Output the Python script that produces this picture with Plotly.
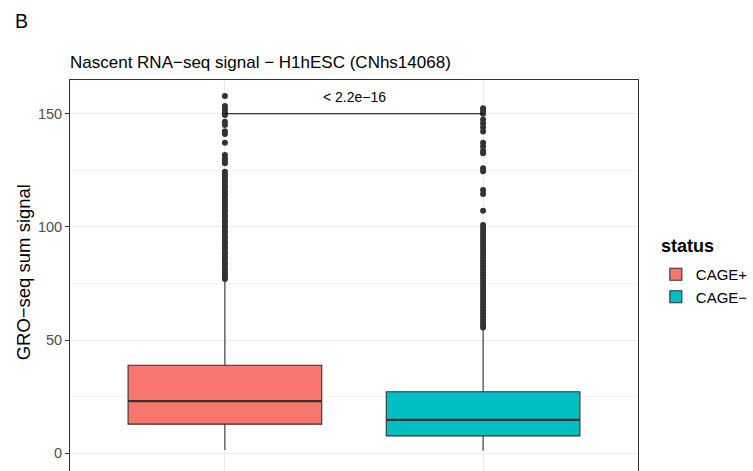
import plotly.graph_objects as go

categories = ["CAGE+", "CAGE−"]
colors = ["#F8766D", "#00BFC4"]
q1 = [12.9, 7.7]
median = [23.1, 14.8]
q3 = [38.9, 27.2]
lowerfence = [1.5, 1.1]
upperfence = [76.6, 55.5]

outliers_pos = [157.8, 153.4, 152.0, 150.6, 149.4, 146.5, 145.0, 142.3, 141.1, 137.2,
                131.8, 130.3, 129.2, 128.1,
                124.4, 123.1, 122.2, 120.7, 119.6, 118.3, 117.4, 116.0, 114.8, 113.9,
                112.5, 111.1, 110.2, 109.0, 107.6, 106.7, 105.3, 104.4, 103.0, 102.1,
                100.6, 99.7, 98.3, 97.4, 96.0, 95.1, 93.7, 92.8, 91.4, 90.5, 89.0,
                88.2, 86.7, 85.9, 84.4, 83.5, 82.1, 81.2, 79.9, 78.8, 77.7, 77.0]
outliers_neg = [152.4, 151.2, 150.0, 147.5, 145.8, 144.0, 142.1, 137.2, 135.5, 133.7,
                132.5, 125.9, 124.6, 116.3, 114.6, 107.2,
                100.9, 99.5, 98.2, 96.9, 95.5, 94.3, 93.0, 91.7, 90.4, 89.0, 87.8,
                86.5, 85.1, 83.9, 82.6, 81.3, 79.9, 78.7, 77.4, 76.1, 74.8, 73.5,
                72.2, 70.9, 69.6, 68.3, 67.0, 65.7, 64.4, 63.1, 61.8, 60.5, 59.2,
                57.9, 56.6, 55.6]
outliers = [outliers_pos, outliers_neg]

pvalue_label = "< 2.2e−16"
bracket_y = 150
title_text = "Nascent RNA−seq signal − H1hESC (CNhs14068)"
ylabel = "GRO−seq sum signal"
legend_title = "status"
yticks = [0, 50, 100, 150]

box_w = 0.75
dark = "#333333"

fig = go.Figure()
for i, cat in enumerate(categories):
    fig.add_trace(go.Box(
        x=[cat], q1=[q1[i]], median=[median[i]], q3=[q3[i]],
        lowerfence=[lowerfence[i]], upperfence=[upperfence[i]],
        name=cat, fillcolor=colors[i], line=dict(color=dark, width=1.1),
        boxpoints=False, width=box_w, whiskerwidth=0, showlegend=True,
    ))
for i, cat in enumerate(categories):
    fig.add_trace(go.Scatter(
        x=[cat] * len(outliers[i]), y=outliers[i], mode="markers",
        marker=dict(color=dark, size=6), showlegend=False, hoverinfo="y",
    ))

# thick median lines
for i, cat in enumerate(categories):
    fig.add_shape(type="line", xref="x", yref="y",
                  x0=i - box_w / 2, x1=i + box_w / 2, y0=median[i], y1=median[i],
                  line=dict(color=dark, width=2.3), layer="above")

# significance bracket
fig.add_shape(type="line", xref="x", yref="y", x0=0, x1=1, y0=bracket_y, y1=bracket_y,
              line=dict(color="black", width=1.1), layer="above")
fig.add_annotation(x=0.5, y=bracket_y, xref="x", yref="y", text=pvalue_label,
                   showarrow=False, yshift=17, font=dict(size=14, color="black"))

# panel label
fig.add_annotation(x=-0.0998, y=1.151, xref="paper", yref="paper", text="B",
                   showarrow=False, xanchor="left", yanchor="middle",
                   font=dict(size=19.5, color="black"))

# y-axis title
fig.add_annotation(x=-0.0812, y=0.5077, xref="paper", yref="paper", text=ylabel,
                   showarrow=False, xanchor="center", yanchor="middle", textangle=-90,
                   font=dict(size=18.5, color="black"))

# legend title
fig.add_annotation(x=(665.5 - 70) / 574, y=1 - (246 - 80) / 391, xref="paper", yref="paper",
                   text="<b>" + legend_title + "</b>", showarrow=False,
                   xanchor="left", yanchor="middle", font=dict(size=18, color="black"))

fig.update_layout(
    width=753, height=471,
    margin=dict(l=70, r=109, t=80, b=0),
    paper_bgcolor="white", plot_bgcolor="white",
    font=dict(family="Liberation Sans, Arial, sans-serif", color="black"),
    title=dict(text=title_text, x=0, xref="paper", xanchor="left",
               y=1 - 62 / 471, yref="container", yanchor="middle",
               font=dict(size=17, color="black")),
    boxmode="overlay",
    legend=dict(x=1.0314, xanchor="left", y=0.5447, yanchor="top",
                font=dict(size=15), bgcolor="rgba(0,0,0,0)"),
    xaxis=dict(type="category", range=[-0.6, 1.6], showgrid=True, gridcolor="#EBEBEB",
               showline=True, linecolor=dark, mirror=True, ticks="", showticklabels=False,
               zeroline=False),
    yaxis=dict(range=[-7.8, 164.9], tickvals=yticks, showgrid=True, gridcolor="#EBEBEB",
               minor=dict(dtick=25, tick0=0, showgrid=True, gridcolor="#F4F4F4"),
               showline=True, linecolor=dark, mirror=True, ticks="outside", ticklen=4,
               tickcolor=dark, tickfont=dict(size=14.5, color="#4D4D4D"), zeroline=False),
)

fig.write_html("out.html")
